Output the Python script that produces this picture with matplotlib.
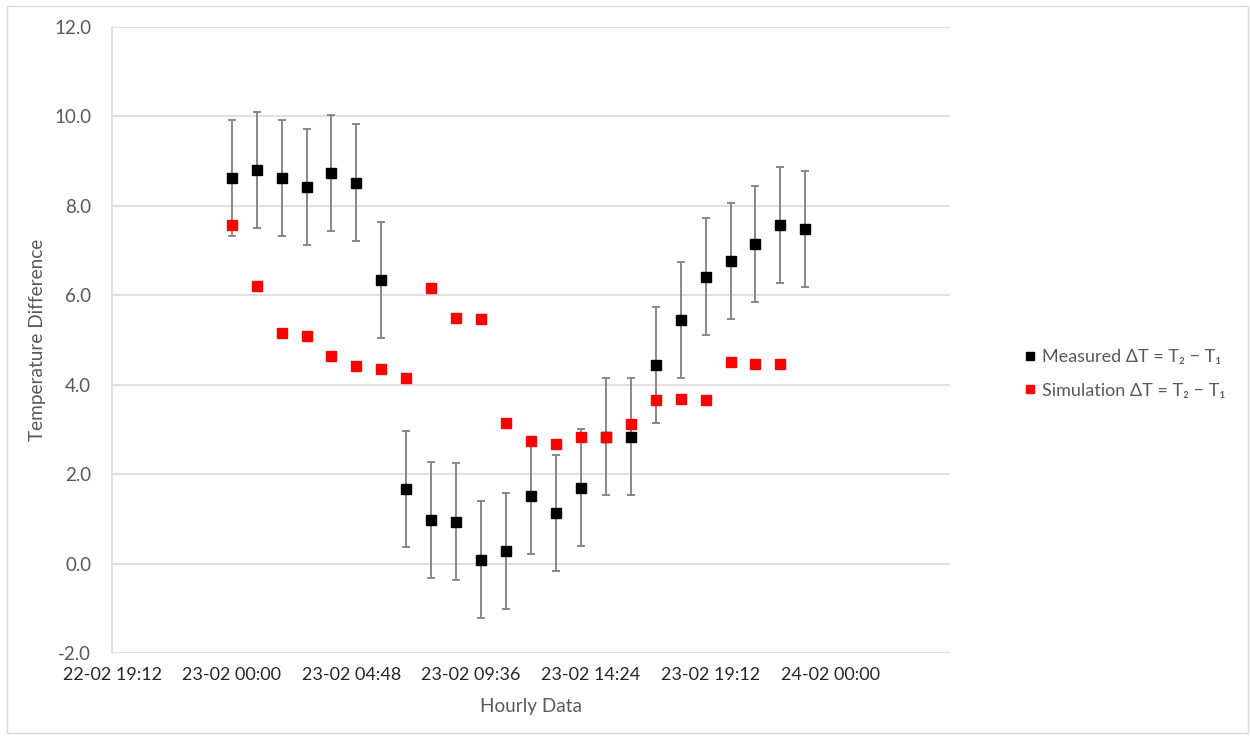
import datetime as dt
import matplotlib
matplotlib.use("Agg")
import matplotlib.pyplot as plt
import matplotlib.dates as mdates
from matplotlib.patches import Rectangle

plt.rcParams['font.family'] = ['Lato', 'DejaVu Sans']

# hourly readings on 23-02, 00:00 to 23:00
start = dt.datetime(2023, 2, 23, 0, 0)
hours = [start + dt.timedelta(hours=h) for h in range(24)]

measured = [8.63, 8.81, 8.62, 8.42, 8.73, 8.52, 6.35, 1.66, 0.98, 0.94, 0.09, 0.28,
            1.52, 1.13, 1.70, 2.84, 2.84, 4.44, 5.44, 6.42, 6.76, 7.14, 7.57, 7.48]
measured_err = [1.3] * 24
simulation = [7.58, 6.21, 5.15, 5.09, 4.64, 4.41, 4.35, 4.15, 6.17, 5.50, 5.47, 3.15,
              2.75, 2.68, 2.84, 2.84, 3.13, 3.65, 3.68, 3.66, 4.50, 4.47, 4.46]

fig = plt.figure(figsize=(12.5, 7.36), dpi=100)
ax = fig.add_axes([112 / 1250, 1 - 653 / 736, (950 - 112) / 1250, (653 - 27) / 736])

ax.errorbar(hours, measured, yerr=measured_err, fmt='none', ecolor='#7f7f7f',
            elinewidth=1.3, capsize=3, capthick=1.3, zorder=2)
ax.plot(hours, measured, 's', color='black', markersize=7.3, linestyle='none',
        label='Measured ΔT = T₂ − T₁', zorder=3)
ax.plot(hours[:len(simulation)], simulation, 's', color='#ff0000', markersize=7,
        linestyle='none', label='Simulation ΔT = T₂ − T₁', zorder=4)

# x axis: 4.8 hour steps like the original
x0 = dt.datetime(2023, 2, 22, 19, 12)
step = dt.timedelta(hours=4.8)
ax.set_xlim(x0, x0 + 7 * step)
ax.set_xticks([x0 + i * step for i in range(7)])
ax.xaxis.set_major_formatter(mdates.DateFormatter('%d-%m %H:%M'))

ax.set_ylim(-2, 12)
ax.set_yticks(range(-2, 13, 2))
ax.yaxis.set_major_formatter(matplotlib.ticker.FormatStrFormatter('%.1f'))
ax.grid(axis='y', color='#d9d9d9', linewidth=1.2)
ax.set_axisbelow(True)

for side in ['top', 'right', 'bottom']:
    ax.spines[side].set_visible(False)
ax.spines['left'].set_color('#d9d9d9')
ax.spines['left'].set_linewidth(1.2)
ax.tick_params(length=0)
ax.tick_params(axis='y', labelsize=13.5, labelcolor='#595959', pad=15)
ax.tick_params(axis='x', labelsize=13, labelcolor='#262626', pad=10)

ax.set_xlabel('Hourly Data', fontsize=13.7, color='#595959', labelpad=11)
ax.set_ylabel('Temperature Difference', fontsize=13.7, color='#595959', labelpad=6)

fig.legend(loc='center left', bbox_to_anchor=(1007 / 1250, 1 - 374 / 736), frameon=False,
           fontsize=13, labelcolor='#595959', handlelength=0.7, handletextpad=0.35,
           labelspacing=0.95, markerscale=0.85)

fig.patches.append(Rectangle((7 / 1250, 3 / 736), 1 - 9 / 1250, 1 - 9 / 736,
                             transform=fig.transFigure, fill=False,
                             edgecolor='#d9d9d9', linewidth=1))

fig.savefig('out.png', dpi=100)
